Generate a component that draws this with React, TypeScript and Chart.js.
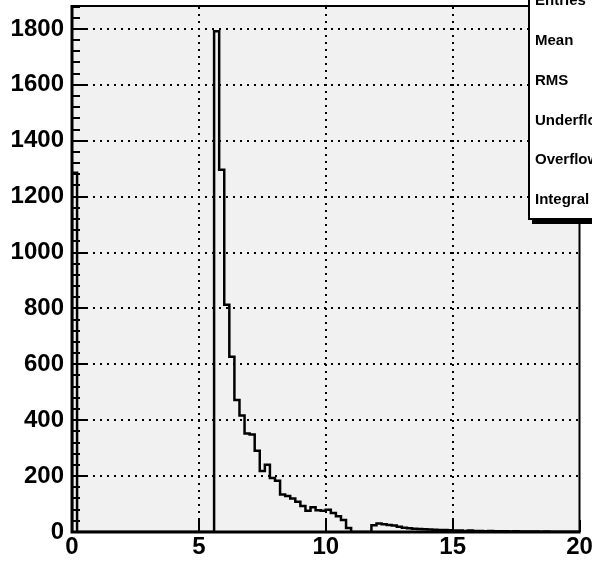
import React, { useEffect, useRef } from 'react';
import { Chart, registerables } from 'chart.js';

Chart.register(...registerables);

const X_MIN = 0;
const X_MAX = 20;
const Y_MAX = 1882;

// histogram bin contents, 100 bins of width 0.2 from 0 to 20
const binCounts = [
  1285, 0, 0, 0, 0, 0, 0, 0, 0, 0,
  0, 0, 0, 0, 0, 0, 0, 0, 0, 0,
  0, 0, 0, 0, 0, 0, 0, 0, 1792, 1296,
  813, 627, 472, 417, 352, 349, 291, 218, 241, 193,
  183, 134, 129, 120, 108, 93, 76, 89, 78, 76,
  80, 68, 56, 43, 14, 0, 0, 0, 0, 24,
  30, 28, 25, 23, 19, 15, 13, 12, 11, 10,
  9, 8, 7, 7, 6, 5, 5, 4, 5, 4,
  4, 3, 4, 3, 3, 3, 2, 3, 2, 2,
  2, 2, 1, 2, 1, 1, 1, 1, 1, 1,
];

const xTickValues = [0, 5, 10, 15, 20];
const yTickValues = [0, 200, 400, 600, 800, 1000, 1200, 1400, 1600, 1800];
const yMinorStep = 40;
const statsLabels = ['Entries', 'Mean', 'RMS', 'Underflow', 'Overflow', 'Integral'];

const FONT_FAMILY = "'Liberation Sans', Arial, Helvetica, sans-serif";

function buildPoints() {
  const n = binCounts.length;
  const w = (X_MAX - X_MIN) / n;
  const pts: { x: number; y: number }[] = [{ x: X_MIN, y: 0 }];
  binCounts.forEach((c, i) => pts.push({ x: X_MIN + i * w, y: c }));
  pts.push({ x: X_MAX, y: 0 });
  return pts;
}

const rootPlugin = {
  id: 'rootStyle',
  beforeDatasetsDraw(chart: any) {
    const { ctx, chartArea: a, scales } = chart;
    const x = scales.x;
    const y = scales.y;
    ctx.save();
    ctx.fillStyle = '#f1f1f1';
    ctx.fillRect(a.left, a.top, a.right - a.left, a.bottom - a.top);
    ctx.strokeStyle = '#000';
    ctx.lineWidth = 2;
    ctx.setLineDash([2, 5]);
    for (const v of yTickValues) {
      if (v === 0) continue;
      const py = Math.round(y.getPixelForValue(v));
      ctx.beginPath();
      ctx.moveTo(a.left + 14, py);
      ctx.lineTo(a.right, py);
      ctx.stroke();
    }
    for (const v of xTickValues) {
      if (v === X_MIN || v === X_MAX) continue;
      const px = Math.round(x.getPixelForValue(v));
      ctx.beginPath();
      ctx.moveTo(px, a.bottom - 12);
      ctx.lineTo(px, a.top);
      ctx.stroke();
    }
    ctx.restore();
  },
  afterDatasetsDraw(chart: any) {
    const { ctx, chartArea: a, scales } = chart;
    const x = scales.x;
    const y = scales.y;
    ctx.save();
    ctx.strokeStyle = '#000';
    ctx.lineWidth = 2;
    ctx.setLineDash([]);
    // y ticks (inward)
    for (let v = 0; v <= Y_MAX; v += yMinorStep) {
      const py = Math.round(y.getPixelForValue(v));
      const len = v % 200 === 0 ? 14 : 8;
      ctx.beginPath();
      ctx.moveTo(a.left, py);
      ctx.lineTo(a.left + len, py);
      ctx.stroke();
    }
    // x ticks (inward)
    for (const v of xTickValues) {
      const px = Math.round(x.getPixelForValue(v));
      ctx.beginPath();
      ctx.moveTo(px, a.bottom);
      ctx.lineTo(px, a.bottom - 12);
      ctx.stroke();
    }
    // frame: top/right 2px, left/bottom axes 3px
    ctx.beginPath();
    ctx.moveTo(a.left, a.top);
    ctx.lineTo(a.right, a.top);
    ctx.lineTo(a.right, a.bottom);
    ctx.stroke();
    ctx.lineWidth = 3;
    ctx.beginPath();
    ctx.moveTo(a.left, a.top - 1);
    ctx.lineTo(a.left, a.bottom);
    ctx.lineTo(a.right + 1, a.bottom);
    ctx.stroke();
    ctx.restore();
  },
  afterDraw(chart: any) {
    const { ctx } = chart;
    ctx.save();
    const left = 528;
    const bottom = 220;
    // shadow
    ctx.fillStyle = '#000';
    ctx.fillRect(left + 4, -10, 200, bottom + 4 + 10);
    // box
    ctx.fillStyle = '#fff';
    ctx.fillRect(left, -10, 200, bottom + 10);
    ctx.strokeStyle = '#000';
    ctx.lineWidth = 2;
    ctx.beginPath();
    ctx.moveTo(left + 1, -10);
    ctx.lineTo(left + 1, bottom - 1);
    ctx.lineTo(left + 200, bottom - 1);
    ctx.stroke();
    ctx.fillStyle = '#000';
    ctx.font = `bold 15px ${FONT_FAMILY}`;
    ctx.textAlign = 'left';
    ctx.textBaseline = 'middle';
    statsLabels.forEach((lab, i) => {
      ctx.fillText(lab, 535, 1 + i * 39.8);
    });
    ctx.restore();
  },
};

export default function App() {
  const canvasRef = useRef<HTMLCanvasElement | null>(null);

  useEffect(() => {
    const canvas = canvasRef.current;
    if (!canvas) return;
    const tickFont = { family: FONT_FAMILY, size: 24, weight: 'bold' as const };
    const chart = new Chart(canvas, {
      type: 'line',
      data: {
        datasets: [
          {
            data: buildPoints(),
            borderColor: '#000',
            borderWidth: 2.5,
            pointRadius: 0,
            fill: false,
            stepped: 'before',
            tension: 0,
          },
        ],
      },
      options: {
        responsive: false,
        animation: false,
        devicePixelRatio: 1,
        events: [],
        layout: { padding: { top: 6, right: 12.5, left: 0, bottom: 0 } },
        plugins: { legend: { display: false }, tooltip: { enabled: false } },
        scales: {
          x: {
            type: 'linear',
            min: X_MIN,
            max: X_MAX,
            grid: { display: false, drawTicks: false },
            border: { display: false },
            ticks: {
              font: tickFont,
              color: '#000',
              padding: 1,
              maxRotation: 0,
              autoSkip: false,
              callback: (v: any) => String(v),
            },
            afterBuildTicks: (s: any) => {
              s.ticks = xTickValues.map((v) => ({ value: v }));
            },
            afterFit: (s: any) => {
              s.height = 29;
              s.paddingLeft = 0;
              s.paddingRight = 0;
            },
          },
          y: {
            type: 'linear',
            min: 0,
            max: Y_MAX,
            grid: { display: false, drawTicks: false },
            border: { display: false },
            ticks: {
              font: tickFont,
              color: '#000',
              padding: 8,
              autoSkip: false,
              callback: (v: any) => String(v),
            },
            afterBuildTicks: (s: any) => {
              s.ticks = yTickValues.map((v) => ({ value: v }));
            },
            afterFit: (s: any) => {
              s.width = 72;
              s.paddingTop = 0;
              s.paddingBottom = 0;
            },
          },
        },
      },
      plugins: [rootPlugin],
    });
    return () => chart.destroy();
  }, []);

  return (
    <div style={{ position: 'absolute', left: 0, top: 0, width: 592, height: 561, background: '#fff' }}>
      <canvas ref={canvasRef} width={592} height={561} style={{ display: 'block', width: 592, height: 561 }} />
    </div>
  );
}
